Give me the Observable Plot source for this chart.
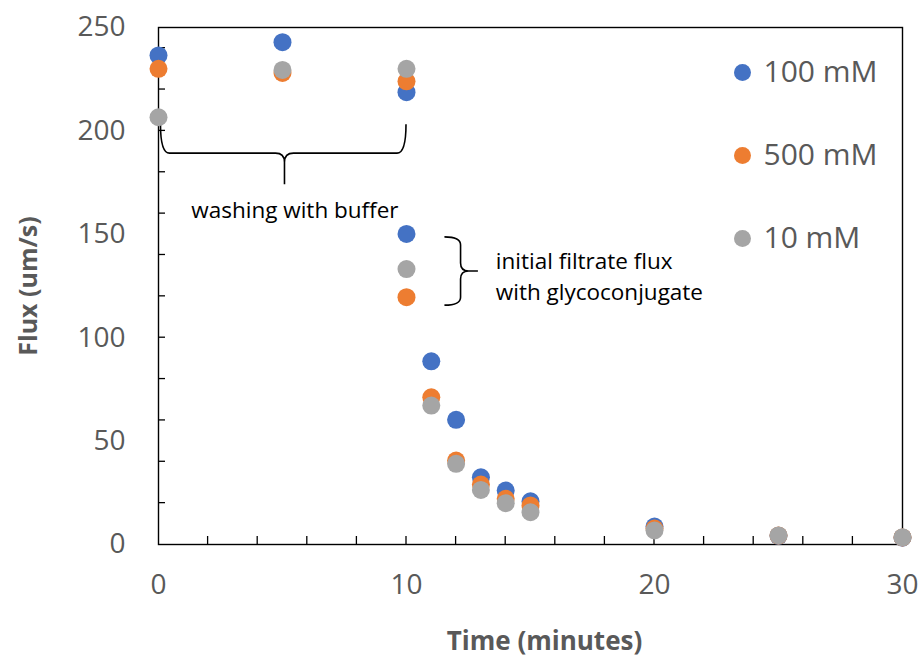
<!DOCTYPE html>
<html><head><meta charset="utf-8">
<script src="https://cdn.jsdelivr.net/npm/d3@7"></script>
<script src="https://cdn.jsdelivr.net/npm/@observablehq/plot@0.6"></script>
<style>body{margin:0;background:#fff;font-family:"Open Sans",sans-serif}</style>
</head><body><div id="chart"></div>
<script>
// ---- data ----
const seriesNames = ["100 mM", "500 mM", "10 mM"];
const seriesColors = ["#4472C4", "#ED7D31", "#A5A5A5"];
const times   = [0, 5, 10, 10, 11, 12, 13, 14, 15, 20, 25, 30];
const flux100 = [236.5, 242.9, 218.7, 150.2, 88.6, 60.3, 32.5, 26.1, 20.9, 8.7, 4.2, 3.3];
const flux500 = [230.0, 228.0, 224.0, 119.6, 71.2, 40.6, 29.0, 22.1, 18.9, 7.7, 4.3, 3.4];
const flux10  = [206.6, 229.5, 230.0, 133.2, 67.2, 39.0, 26.4, 20.0, 15.6, 6.8, 4.4, 3.5];
const xTicks = [0, 10, 20, 30];
const yTicks = [0, 50, 100, 150, 200, 250];
const xMinorTicks = [2, 4, 6, 8, 10, 12, 14, 16, 18, 20, 22, 24, 26, 28];
const yMinorTicks = [20, 40, 60, 80, 100, 120, 140, 160, 180, 200, 220, 240];
const xTitle = "Time (minutes)";
const yTitle = "Flux (um/s)";
const washLabel = "washing with buffer";
const filtrateLabel = ["initial filtrate flux", "with glycoconjugate"];

// ---- table ----
const fluxBySeries = [flux100, flux500, flux10];
const rows = seriesNames.flatMap((s, i) => times.map((t, j) => ({series: s, time: t, flux: fluxBySeries[i][j]})));

const grey = "#595959";
const font = '"Open Sans", sans-serif';

// custom mark: inward minor ticks and curly braces, drawn through the scales
function decorations(index, scales, values, dims) {
  const {x, y} = scales;
  const g = d3.create("svg:g").attr("fill", "none").attr("stroke", "#000");
  const y0 = y(0), x0 = x(0);
  g.append("g").attr("stroke-width", 1.3).selectAll("line").data(xMinorTicks).join("line")
    .attr("x1", d => x(d)).attr("x2", d => x(d)).attr("y1", y0).attr("y2", y0 - 8);
  g.append("g").attr("stroke-width", 1.3).selectAll("line").data(yMinorTicks).join("line")
    .attr("x1", x0).attr("x2", x0 + 7).attr("y1", d => y(d)).attr("y2", d => y(d));
  // horizontal brace (washing with buffer)
  const hx0 = x(0.1), hx1 = x(10), hxm = x(5.1), hyTop = y(203), hyLine = y(189), hyTip = y(174), q = 9;
  g.append("path").attr("stroke-width", 1.6).attr("d",
    `M${hx0},${hyTop} Q${hx0},${hyLine} ${hx0 + q},${hyLine} L${hxm - q},${hyLine} Q${hxm},${hyLine} ${hxm},${hyLine + q}` +
    ` L${hxm},${hyTip} M${hxm},${hyLine + q} Q${hxm},${hyLine} ${hxm + q},${hyLine} L${hx1 - q},${hyLine} Q${hx1},${hyLine} ${hx1},${hyTop}`);
  // vertical brace (initial filtrate flux)
  const vx0 = x(11.55), vxLine = x(12.2), vxTip = x(12.9), vyTop = y(148.5), vyBot = y(115.5), vym = y(132), r = 8;
  g.append("path").attr("stroke-width", 1.6).attr("d",
    `M${vx0},${vyTop} Q${vxLine},${vyTop} ${vxLine},${vyTop + r} L${vxLine},${vym - r} Q${vxLine},${vym} ${vxLine + r},${vym}` +
    ` L${vxTip},${vym} M${vxLine + r},${vym} Q${vxLine},${vym} ${vxLine},${vym + r} L${vxLine},${vyBot - r} Q${vxLine},${vyBot} ${vx0},${vyBot}`);
  return g.node();
}

const legendMarks = seriesNames.flatMap((s, i) => [
  Plot.dot([s], {frameAnchor: "top-left", dx: 742 - 158, dy: 45 + i * 83, r: 8.5, fill: seriesColors[i]}),
  Plot.text([s], {frameAnchor: "top-left", dx: 763 - 158, dy: 45 + i * 83, text: d => d, textAnchor: "start",
    lineAnchor: "middle", fontSize: 30, fill: grey, fontFamily: font})
]);

const chart = Plot.plot({
  width: 924, height: 660,
  marginLeft: 158, marginRight: 22, marginTop: 27, marginBottom: 116,
  style: {fontFamily: font, background: "#fff"},
  x: {domain: [0, 30]},
  y: {domain: [0, 250]},
  color: {domain: seriesNames, range: seriesColors},
  marks: [
    Plot.axisX({ticks: xTicks, tickSize: 0, tickPadding: 30, fontSize: 28, fill: grey, label: null}),
    Plot.axisY({ticks: yTicks, tickSize: 0, tickPadding: 33, fontSize: 28, fill: grey, label: null}),
    Plot.frame({stroke: "#000", strokeWidth: 1.4}),
    decorations,
    Plot.dot(rows, {x: "time", y: "flux", fill: "series", r: 9}),
    Plot.text([washLabel], {x: 5.5, y: 161.5, text: d => d, fontSize: 22.5, fill: "#000", fontFamily: font}),
    Plot.text(filtrateLabel, {x: 13.6, y: (d, i) => [136.5, 121.5][i], text: d => d, textAnchor: "start",
      fontSize: 22.5, fill: "#000", fontFamily: font}),
    ...legendMarks,
    Plot.text([xTitle], {frameAnchor: "bottom", dx: 14, dy: 97, text: d => d, lineAnchor: "middle",
      fontSize: 26, fontWeight: "bold", fill: grey, fontFamily: font}),
    Plot.text([yTitle], {frameAnchor: "left", dx: -130, rotate: -90, text: d => d, textAnchor: "middle", lineAnchor: "middle",
      fontSize: 25, fontWeight: "bold", fill: grey, fontFamily: font})
  ]
});
document.getElementById("chart").append(chart);
</script>
</body></html>
